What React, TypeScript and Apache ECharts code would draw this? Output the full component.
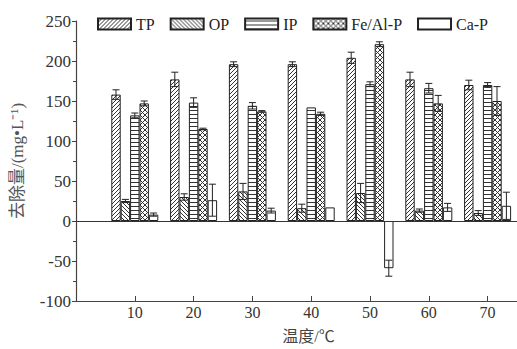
import React, { useEffect, useRef } from 'react';
import * as echarts from 'echarts';

const temperatures = [10, 20, 30, 40, 50, 60, 70];
const seriesNames = ['TP', 'OP', 'IP', 'Fe/Al-P', 'Ca-P'];
const tpValues = [158, 177, 196, 196, 204, 177, 170];
const tpErrors = [6, 9, 3, 3, 7, 9, 6];
const opValues = [25, 30, 37, 16, 35, 13, 10];
const opErrors = [2, 4, 10, 5, 12, 2, 3];
const ipValues = [132, 148, 144, 142, 171, 166, 170];
const ipErrors = [3, 6, 4, 0, 3, 6, 3];
const feAlValues = [147, 115, 137, 134, 221, 147, 150];
const feAlErrors = [3, 1, 1, 2, 3, 10, 18];
const caValues = [8, 26, 13, 17, -59, 17, 19];
const caErrors = [2, 20, 3, 0, 10, 5, 17];

const allValues = [tpValues, opValues, ipValues, feAlValues, caValues];
const allErrors = [tpErrors, opErrors, ipErrors, feAlErrors, caErrors];
const patternKinds = ['fwd', 'back', 'h', 'x', 'none'];

const BAR_W = 9.4;
const FONT = "'Liberation Serif', 'Noto Sans CJK SC', serif";

function makePattern(kind: string): any {
  if (kind === 'none') return '#ffffff';
  const s = kind === 'x' ? 5 : 4;
  const c = document.createElement('canvas');
  c.width = s;
  c.height = s;
  const g = c.getContext('2d')!;
  g.fillStyle = '#ffffff';
  g.fillRect(0, 0, s, s);
  g.strokeStyle = '#333333';
  g.lineWidth = 1;
  g.beginPath();
  if (kind === 'fwd' || kind === 'x') {
    g.moveTo(-1, s + 1); g.lineTo(s + 1, -1);
    g.moveTo(-1, 1); g.lineTo(1, -1);
    g.moveTo(s - 1, s + 1); g.lineTo(s + 1, s - 1);
  }
  if (kind === 'back' || kind === 'x') {
    g.moveTo(-1, -1); g.lineTo(s + 1, s + 1);
    g.moveTo(s - 1, -1); g.lineTo(s + 1, 1);
    g.moveTo(-1, s - 1); g.lineTo(1, s + 1);
  }
  if (kind === 'h') {
    g.moveTo(0, 2.5); g.lineTo(s, 2.5);
  }
  g.stroke();
  return { image: c, repeat: 'repeat' };
}

export default function App() {
  const ref = useRef<HTMLDivElement>(null);
  useEffect(() => {
    document.body.style.margin = '0';
    const chart = echarts.init(ref.current!, null, { renderer: 'svg' });
    const barSeries: any[] = seriesNames.map((name, i) => ({
      name,
      type: 'bar',
      data: temperatures.map((t, j) => [t, allValues[i][j]]),
      barWidth: BAR_W,
      barGap: '0%',
      itemStyle: { color: makePattern(patternKinds[i]), borderColor: '#222', borderWidth: 1 },
      z: 2,
      ...(i === 0
        ? {
            markLine: {
              silent: true,
              symbol: ['none', 'none'],
              label: { show: false },
              lineStyle: { color: '#333', type: 'solid', width: 1.2 },
              data: [{ yAxis: 0 }],
            },
          }
        : {}),
    }));
    const errData: number[][] = [];
    seriesNames.forEach((_, i) => {
      temperatures.forEach((t, j) => {
        errData.push([t, i, allValues[i][j], allErrors[i][j]]);
      });
    });
    const errSeries = {
      type: 'custom',
      name: 'err',
      silent: true,
      z: 5,
      encode: { x: 0, y: 2 },
      data: errData,
      renderItem: (params: any, api: any) => {
        const x = api.value(0);
        const i = api.value(1);
        const v = api.value(2);
        const e = api.value(3);
        if (!e) return null;
        const cx = api.coord([x, 0])[0] + (i - 2) * BAR_W;
        const yHi = api.coord([x, v + e])[1];
        const yLo = api.coord([x, v - e])[1];
        const hw = 3.5;
        const st = { stroke: '#222', lineWidth: 1 };
        return {
          type: 'group',
          children: [
            { type: 'line', shape: { x1: cx, y1: yLo, x2: cx, y2: yHi }, style: st },
            { type: 'line', shape: { x1: cx - hw, y1: yHi, x2: cx + hw, y2: yHi }, style: st },
            { type: 'line', shape: { x1: cx - hw, y1: yLo, x2: cx + hw, y2: yLo }, style: st },
          ],
        };
      },
    };
    chart.setOption({
      animation: false,
      backgroundColor: '#ffffff',
      grid: { left: 76, top: 21, width: 442, height: 294 },
      legend: {
        data: seriesNames,
        left: 92,
        top: 11,
        itemWidth: 33,
        itemHeight: 11,
        itemGap: 15,
        icon: 'rect',
        textStyle: { fontFamily: FONT, fontSize: 16, color: '#222' },
      },
      xAxis: {
        type: 'value',
        min: 0,
        max: 75,
        interval: 10,
        name: '温度/℃',
        nameLocation: 'middle',
        nameGap: 27,
        nameTextStyle: { fontFamily: FONT, fontSize: 16, color: '#444', padding: [0, 0, 0, 24] },
        axisLine: { onZero: false, lineStyle: { color: '#444', width: 1.2 } },
        axisTick: { inside: true, length: 5, customValues: temperatures, lineStyle: { color: '#444' } },
        axisLabel: { customValues: temperatures, fontFamily: FONT, fontSize: 16, color: '#333', margin: 3 },
        splitLine: { show: false },
      },
      yAxis: {
        type: 'value',
        min: -100,
        max: 250,
        interval: 50,
        name: '去除量/(mg•L⁻¹)',
        nameLocation: 'middle',
        nameGap: 50,
        nameTextStyle: { fontFamily: FONT, fontSize: 17, color: '#555' },
        axisLine: { show: true, lineStyle: { color: '#444', width: 1.2 } },
        axisTick: { show: true, inside: false, length: 4, lineStyle: { color: '#444' } },
        minorTick: { show: true, splitNumber: 2, length: 3, lineStyle: { color: '#444' } },
        axisLabel: { fontFamily: FONT, fontSize: 17, color: '#333', margin: 5 },
        splitLine: { show: false },
      },
      series: [...barSeries, errSeries],
    });
    return () => chart.dispose();
  }, []);
  return <div ref={ref} style={{ width: 517, height: 349 }} />;
}
